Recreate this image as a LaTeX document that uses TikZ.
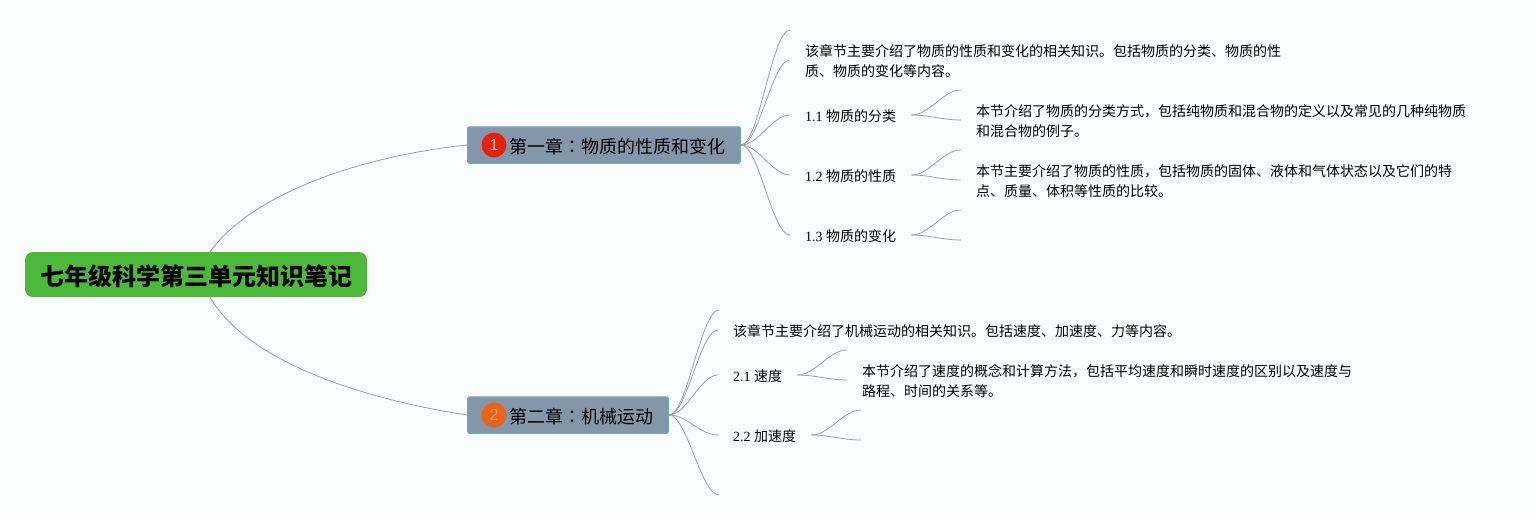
\documentclass[tikz,border=0pt]{standalone}
\usepackage{fontspec}
\setmainfont{Liberation Serif}
\newfontfamily\cjk{Noto Sans CJK SC}
\newfontfamily\cjktc{Noto Sans CJK TC}
\setsansfont{Liberation Sans}
\definecolor{paper}{HTML}{FBFCFD}
\definecolor{rootgreen}{HTML}{4CB93A}
\definecolor{chapterfill}{HTML}{8496A9}
\definecolor{chapteredge}{HTML}{74AEA8}
\definecolor{branchline}{HTML}{9A9DB5}
\definecolor{badgered}{HTML}{E3230F}
\definecolor{badgeorange}{HTML}{E8641B}
\tikzset{
    root/.style={fill=rootgreen,rounded corners=8pt,minimum width=342pt,minimum height=45pt,inner sep=0pt,text height=24pt,text depth=2pt,font=\fontsize{24}{28}\selectfont\cjk\bfseries},
    chapter/.style={anchor=west,fill=chapterfill,draw=chapteredge,line width=1pt,rounded corners=1.5pt,minimum height=36.5pt,inner xsep=15pt,inner ysep=0pt,text height=18.5pt,text depth=1.9pt,font=\fontsize{18}{22}\selectfont\cjk},
    badge/.style={circle,minimum size=25pt,inner sep=0pt,font=\fontsize{16}{18}\selectfont\sffamily},
    leaf/.style={anchor=west,inner xsep=15pt,inner ysep=0pt,align=left,font=\fontsize{14}{20}\selectfont},
    shortleaf/.style={leaf,text height=14.3pt,text depth=1.7pt},
    branch/.style={draw=branchline,line width=0.8pt},
}
\begin{document}
\begin{tikzpicture}[x=1pt,y=-1pt]
    \fill[paper] (0,0) rectangle (1536,520);
    \useasboundingbox (0,0) rectangle (1536,520);
    % root and chapters
    \node[root] (root) at (196,274.5) {七年级科学第三单元知识笔记};
    \node[chapter] (ch1) at (467,145) {\hspace{27pt}第一章{\cjktc ：}物质的性质和变化};
    \node[chapter] (ch2) at (467,415) {\hspace{27pt}第二章{\cjktc ：}机械运动};
    \node[badge,fill=badgered,text=white!70!badgered] (b1) at (494,145) {1};
    \node[badge,fill=badgeorange,text=white!35!badgeorange] (b2) at (494,415) {2};
    \coordinate (r1) at ([xshift=14pt]root.north);
    \coordinate (r2) at ([xshift=14pt]root.south);
    \draw[branch] (r1) .. controls (255,190) and (370,155) .. (ch1.west);
    \draw[branch] (r2) .. controls (250,365) and (370,400) .. (ch2.west);
    % chapter 1
    \coordinate (t10) at (790,30);
    \node[leaf] (t11) at (790,61.5) {{\cjk 该章节主要介绍了物质的性质和变化的相关知识。包括物质的分类、物质的性}\\{\cjk 质、物质的变化等内容。}};
    \coordinate (t11e) at ([yshift=1.5pt]t11.west);
    \node[shortleaf] (s1) at (790,115) {1.1 {\cjk 物质的分类}};
    \node[shortleaf] (s2) at (790,175) {1.2 {\cjk 物质的性质}};
    \node[shortleaf] (s3) at (790,235) {1.3 {\cjk 物质的变化}};
    \foreach \n in {t10,t11e,s1.west,s2.west,s3.west}{
        \draw[branch] (ch1.east) .. controls +(18,0) and +(-18,0) .. (\n);
    }
    \node[leaf] (p1) at (961,121) {{\cjk 本节介绍了物质的分类方式，包括纯物质和混合物的定义以及常见的几种纯物质}\\{\cjk 和混合物的例子。}};
    \node[leaf] (p2) at (961,181) {{\cjk 本节主要介绍了物质的性质，包括物质的固体、液体和气体状态以及它们的特}\\{\cjk 点、质量、体积等性质的比较。}};
    \coordinate (u1) at (961,90);
    \coordinate (v1) at ([yshift=1pt]p1.west);
    \coordinate (u2) at (961,150);
    \coordinate (v2) at ([yshift=1pt]p2.west);
    \coordinate (u3) at (961,210);
    \coordinate (v3) at (961,240);
    \foreach \a/\b/\c in {s1/u1/v1,s2/u2/v2,s3/u3/v3}{
        \draw[branch] (\a.east) .. controls +(18,0) and +(-18,0) .. (\b);
        \draw[branch] (\a.east) .. controls +(18,0) and +(-18,0) .. (\c);
    }
    % chapter 2
    \coordinate (t20) at (719,310);
    \coordinate (t24) at (719,495);
    \node[shortleaf] (t21) at (718,330) {{\cjk 该章节主要介绍了机械运动的相关知识。包括速度、加速度、力等内容。}};
    \node[shortleaf] (s4) at (718,375) {2.1 {\cjk 速度}};
    \node[shortleaf] (s5) at (718,435) {2.2 {\cjk 加速度}};
    \foreach \n in {t20,t21.west,s4.west,s5.west,t24}{
        \draw[branch] (ch2.east) .. controls +(18,0) and +(-18,0) .. (\n);
    }
    \node[leaf] (p4) at (847,381) {{\cjk 本节介绍了速度的概念和计算方法，包括平均速度和瞬时速度的区别以及速度与}\\{\cjk 路程、时间的关系等。}};
    \coordinate (u4) at (847,350);
    \coordinate (v4) at ([yshift=1pt]p4.west);
    \coordinate (u5) at (861,410);
    \coordinate (v5) at (861,440);
    \foreach \a/\b/\c in {s4/u4/v4,s5/u5/v5}{
        \draw[branch] (\a.east) .. controls +(18,0) and +(-18,0) .. (\b);
        \draw[branch] (\a.east) .. controls +(18,0) and +(-18,0) .. (\c);
    }
\end{tikzpicture}
\end{document}
